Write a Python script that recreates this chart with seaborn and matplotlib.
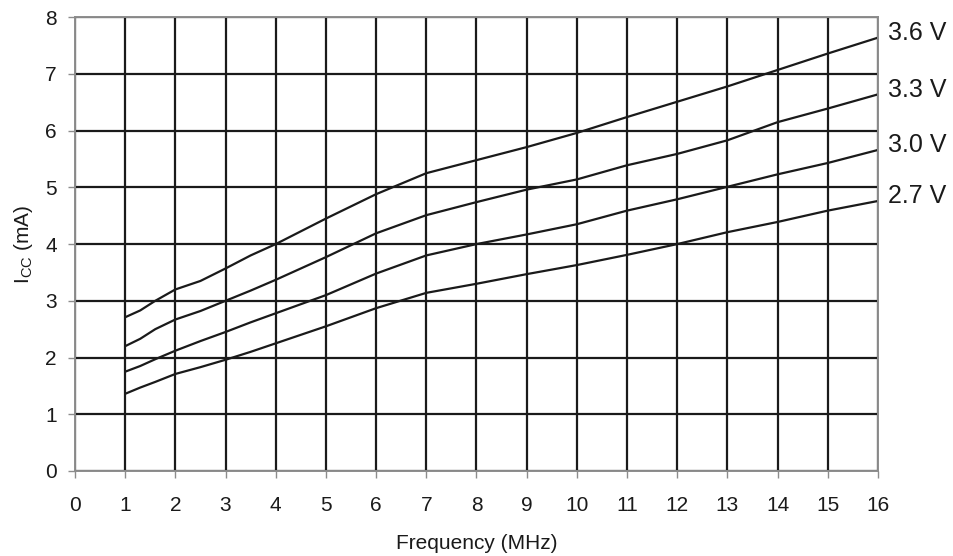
import pandas as pd
import matplotlib.pyplot as plt
import seaborn as sns

# valores
freq = [1, 1.3, 1.6, 2, 2.5, 3, 3.5, 4, 5, 6, 7, 8, 9, 10, 11, 12, 13, 14, 15, 16]
icc_36 = [2.71, 2.83, 3.0, 3.2, 3.35, 3.57, 3.8, 4.0, 4.45, 4.88, 5.25, 5.48, 5.71, 5.96, 6.24, 6.51, 6.78, 7.07, 7.36, 7.64]
icc_33 = [2.2, 2.33, 2.5, 2.67, 2.82, 3.0, 3.18, 3.37, 3.77, 4.19, 4.51, 4.74, 4.96, 5.14, 5.39, 5.59, 5.83, 6.15, 6.39, 6.64]
icc_30 = [1.75, 1.85, 1.97, 2.12, 2.29, 2.45, 2.62, 2.78, 3.1, 3.48, 3.8, 4.0, 4.17, 4.35, 4.59, 4.79, 5.01, 5.23, 5.43, 5.66]
icc_27 = [1.36, 1.47, 1.57, 1.71, 1.83, 1.96, 2.1, 2.25, 2.55, 2.87, 3.14, 3.3, 3.47, 3.63, 3.81, 4.0, 4.21, 4.39, 4.59, 4.76]
voltages = ["3.6 V", "3.3 V", "3.0 V", "2.7 V"]

series = [icc_36, icc_33, icc_30, icc_27]
df = pd.concat(
    [pd.DataFrame({"freq": freq, "icc": vals, "vcc": v}) for v, vals in zip(voltages, series)],
    ignore_index=True,
)

sns.set_style("white")
plt.rcParams["font.family"] = ["Liberation Sans", "DejaVu Sans"]

fig = plt.figure(figsize=(9.54, 5.56), dpi=100)
ax = fig.add_axes([0.0786, 0.153, 0.8417, 0.816])

sns.lineplot(data=df, x="freq", y="icc", hue="vcc", palette=["#1a1a1a"] * 4,
             linewidth=1.6, legend=False, ax=ax)

ax.set_xlim(0, 16)
ax.set_ylim(0, 8)
ax.set_xticks(range(0, 17))
ax.set_yticks(range(0, 9))
ax.grid(True, color="#1a1a1a", linewidth=1.6)
ax.set_axisbelow(True)
for s in ax.spines.values():
    s.set_color("#8c8c8c")
    s.set_linewidth(1.4)
ax.tick_params(axis="both", direction="out", length=5, width=1, color="#8c8c8c",
               labelsize=15, labelcolor="#1a1a1a", bottom=True, left=True)
ax.tick_params(axis="x", pad=13)
ax.tick_params(axis="y", pad=8)

ax.set_xlabel("Frequency (MHz)", fontsize=15, color="#1a1a1a", labelpad=14)
ax.set_ylabel(r"I$_{\mathregular{CC}}$ (mA)", fontsize=15, color="#1a1a1a", labelpad=7)

for v, vals in zip(voltages, series):
    ax.text(16.2, vals[-1] + 0.08, v, fontsize=18, va="center", ha="left",
            color="#1a1a1a", clip_on=False)

plt.savefig("out.png", dpi=100)
plt.close()
